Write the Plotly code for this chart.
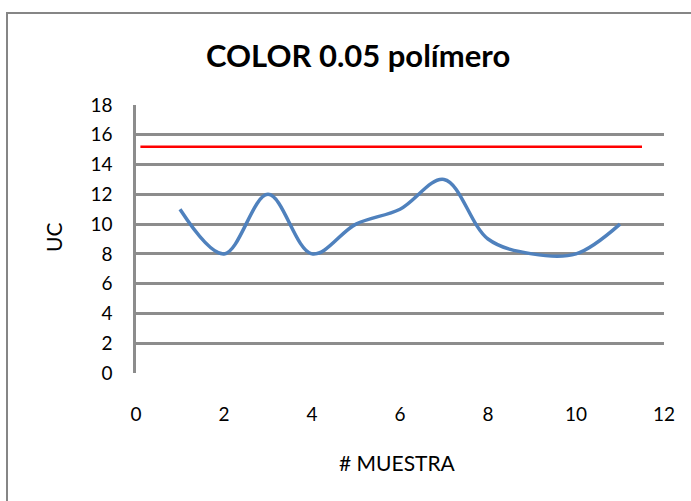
import plotly.graph_objects as go

muestra = [1, 2, 3, 4, 5, 6, 7, 8, 9, 10, 11]
uc = [11, 8, 12, 8, 10, 11, 13, 9, 8, 8, 10]
limite_x = [0.1, 11.5]
limite_y = [15.2, 15.2]
x_ticks = [0, 2, 4, 6, 8, 10, 12]
y_ticks = [0, 2, 4, 6, 8, 10, 12, 14, 16, 18]

W, H = 691, 501
L, R, T, B = 136, 664, 105, 373
pw, ph = R - L, B - T

def px(x):
    return (x - L) / pw

def py(y):
    return (B - y) / ph

fig = go.Figure()
fig.add_trace(go.Scatter(x=limite_x, y=limite_y, mode="lines",
                         line=dict(color="#FF0000", width=2.5), showlegend=False))
fig.add_trace(go.Scatter(x=muestra, y=uc, mode="lines",
                         line=dict(color="#4F81BD", width=3.5, shape="spline", smoothing=1.0),
                         showlegend=False))

font = "Lato, 'Open Sans', sans-serif"
fig.update_layout(
    width=W, height=H,
    margin=dict(l=L, r=W - R, t=T, b=H - B),
    paper_bgcolor="white", plot_bgcolor="white",
    font=dict(family=font, size=19, color="black"),
    xaxis=dict(range=[0, 12], tickvals=x_ticks, showgrid=False, zeroline=False,
               showline=False, ticks="", ticklen=0, tickfont=dict(size=19)),
    yaxis=dict(range=[0, 18], tickvals=y_ticks, showgrid=True, gridcolor="#8c8c8c",
               gridwidth=2.5, zeroline=False, showline=True, linecolor="#8c8c8c",
               linewidth=2.5, ticks="", tickfont=dict(size=19)),
    shapes=[dict(type="rect", xref="paper", yref="paper",
                 x0=px(7), x1=px(720), y0=py(530), y1=py(13),
                 line=dict(color="#868686", width=2), fillcolor="rgba(0,0,0,0)", layer="below")],
    annotations=[
        dict(text="<b>COLOR 0.05 polímero</b>", xref="paper", yref="paper",
             x=px(357.5), y=py(55), xanchor="center", yanchor="middle", showarrow=False,
             font=dict(size=31, family=font)),
        dict(text="# MUESTRA", xref="paper", yref="paper",
             x=px(397), y=py(462), xanchor="center", yanchor="middle", showarrow=False,
             font=dict(size=21, family=font)),
        dict(text="UC", xref="paper", yref="paper", textangle=-90,
             x=px(53), y=py(238), xanchor="center", yanchor="middle", showarrow=False,
             font=dict(size=21, family=font)),
    ],
)
fig.update_xaxes(ticklabelstandoff=28)
fig.update_yaxes(ticklabelstandoff=17)
fig.write_html("out.html", config={"displayModeBar": False},
               post_script="document.body.style.margin='0';")
